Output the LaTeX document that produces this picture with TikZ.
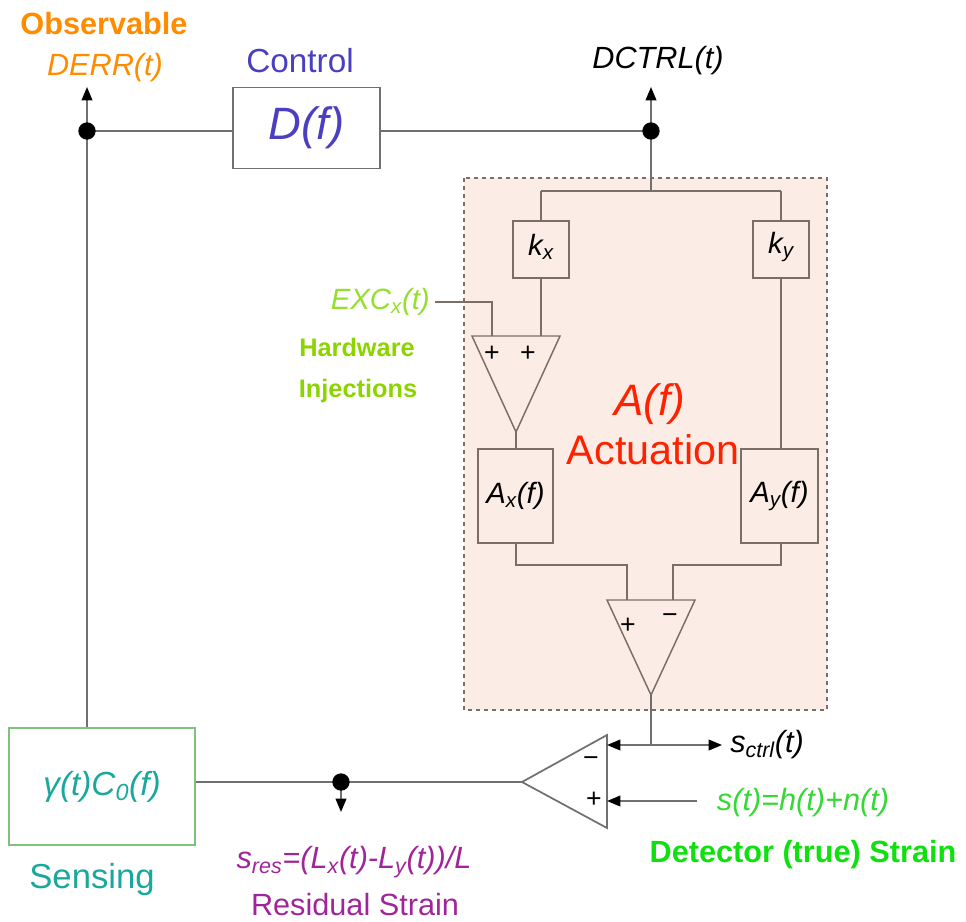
\documentclass[tikz,border=0pt]{standalone}
\usepackage{fontspec}
\setmainfont{Liberation Sans}
\usetikzlibrary{arrows.meta}
\definecolor{lineg}{HTML}{707070}
\definecolor{boxg}{HTML}{7A6E66}
\definecolor{peach}{HTML}{FBEDE5}
\definecolor{obsor}{HTML}{FF8C00}
\definecolor{ctrlb}{HTML}{4A3FC0}
\definecolor{hwgreen}{HTML}{8CD400}
\definecolor{excgreen}{HTML}{95DF30}
\definecolor{detgreen}{HTML}{10E010}
\definecolor{sgreen}{HTML}{35D835}
\definecolor{teal1}{HTML}{1AA89C}
\definecolor{purp}{HTML}{A0259A}
\definecolor{actred}{HTML}{FF2200}
\definecolor{sensbd}{HTML}{7CC47C}
\begin{document}
\begin{tikzpicture}[x=0.75pt,y=-0.75pt,
  wire/.style={draw=lineg,line width=1.3pt},
  iwire/.style={draw=boxg,line width=1.1pt},
  arr/.style={-{Triangle[length=10pt,width=8pt,color=black]}},
  blk/.style={draw=boxg,line width=1.1pt,inner sep=0pt},
  dotn/.style={circle,fill=black,minimum size=13pt,inner sep=0pt},
  lbl/.style={inner sep=0pt},
  sz/.style={font=\fontsize{#1}{#1}\selectfont},
  bsz/.style={font=\fontsize{#1}{#1}\selectfont\bfseries}]
\useasboundingbox (0,0) rectangle (966,921);
% dashed actuation region
\draw[dashed,draw=boxg,fill=peach,line width=0.9pt] (464,178) rectangle (827,710);
% blocks
\node[blk,draw=lineg,line width=1.3pt,minimum width=110.25pt,minimum height=60.75pt] (D) at (306.5,128) {};
\node[lbl,sz=34,text=ctrlb] at (D.center) {\itshape D(f)};
\node[blk,minimum width=42pt,minimum height=42.75pt] (kx) at (541,249.5) {};
\node[lbl,sz=22] at ([yshift=2pt]kx.center) {\itshape k\textsubscript{x}};
\node[blk,minimum width=42pt,minimum height=42.75pt] (ky) at (781,249.5) {};
\node[lbl,sz=22] at ([yshift=2pt]ky.center) {\itshape k\textsubscript{y}};
\node[blk,minimum width=56.25pt,minimum height=70.5pt] (Ax) at (515.5,496) {};
\node[lbl,sz=22] at (Ax.center) {\itshape A\textsubscript{x}(f)};
\node[blk,minimum width=57.75pt,minimum height=70.5pt] (Ay) at (779.5,496) {};
\node[lbl,sz=22] at (Ay.center) {\itshape A\textsubscript{y}(f)};
\node[blk,draw=sensbd,line width=1.3pt,minimum width=139.5pt,minimum height=87.75pt] (S) at (102,786.5) {};
\node[lbl,sz=25,text=teal1] at (S.center) {\itshape γ(t)C\textsubscript{0}(f)};
% triangles
\coordinate (t1a) at (472,336); \coordinate (t1b) at (560,336); \coordinate (t1o) at (516,432);
\coordinate (t1i1) at (492,336); \coordinate (t1i2) at (541,336);
\draw[iwire] (t1a) -- (t1b) -- (t1o) -- cycle;
\coordinate (t2a) at (607,600); \coordinate (t2b) at (695,600); \coordinate (t2o) at (651,695);
\coordinate (t2i1) at (627,600); \coordinate (t2i2) at (673,600);
\draw[iwire] (t2a) -- (t2b) -- (t2o) -- cycle;
\coordinate (t3a) at (607,735); \coordinate (t3b) at (607,828); \coordinate (t3o) at (522,782);
\coordinate (t3m) at (607,745); \coordinate (t3p) at (607,801);
\draw[wire] (t3a) -- (t3b) -- (t3o) -- cycle;
% signs
\node[lbl,sz=20] at (492,354) {+};
\node[lbl,sz=20] at (528,354) {+};
\node[lbl,sz=20] at (628,626) {+};
\node[lbl,sz=20] at (670,619) {\textminus};
\node[lbl,sz=20] at (591,762) {\textminus};
\node[lbl,sz=20] at (594,800) {+};
% junction coordinates
\coordinate (j1c) at (87,131);
\coordinate (j2c) at (651,131);
\coordinate (j3c) at (341,782);
% outer loop
\coordinate (derr) at (87,87);
\coordinate (dctrl) at (651,87);
\coordinate (branch) at (651,191);
\coordinate (bl) at (541,191);
\coordinate (br) at (781,191);
\draw[wire,arr] (j1c) -- (derr);
\draw[wire,arr] (j2c) -- (dctrl);
\draw[wire] (j1c) -- (j1c -| D.west);
\draw[wire] (j2c -| D.east) -- (j2c);
\draw[wire] (j1c) -- (S.north -| j1c);
\draw[wire] (j2c) -- (branch);
\draw[iwire] (bl) -- (br);
\draw[iwire] (bl) -- (kx.north);
\draw[iwire] (br) -- (ky.north);
\draw[iwire] (kx.south) -- (t1i2);
\coordinate (excs) at (435,302);
\draw[iwire] (excs) -- (492,302) -- (t1i1);
\draw[iwire] (t1o) -- (t1o |- Ax.north);
\draw[iwire] (ky.south) -- (ky.south |- Ay.north);
\draw[iwire] (Ax.south -| t1o) -- (516,565) -- (627,565) -- (t2i1);
\draw[iwire] (Ay.south -| ky.south) -- (781,565) -- (673,565) -- (t2i2);
\coordinate (sj) at (651,745);
\coordinate (sc) at (722,745);
\coordinate (sin) at (697,801);
\draw[wire] (t2o) -- (sj);
\draw[wire,arr] (sj) -- (t3m);
\draw[wire,arr] (sj) -- (sc);
\draw[wire,arr] (sin) -- (t3p);
\draw[wire] (t3o) -- (t3o -| S.east);
\coordinate (sres) at (341,812);
\draw[wire,arr] (j3c) -- (sres);
% dots on top
\node[dotn] (j1) at (j1c) {};
\node[dotn] (j2) at (j2c) {};
\node[dotn] (j3) at (j3c) {};
% labels
\node[lbl,bsz=23,text=obsor] at (104,24) {Observable};
\node[lbl,sz=23,text=obsor] at (105,68) {\itshape DERR(t)};
\node[lbl,sz=25,text=ctrlb] at (300,61) {Control};
\node[lbl,sz=23] at (658,61) {\itshape DCTRL(t)};
\node[lbl,sz=22,text=excgreen,anchor=east] at (430,302) {\itshape EXC\textsubscript{x}(t)};
\node[lbl,bsz=19,text=hwgreen] at (357,347) {Hardware};
\node[lbl,bsz=19,text=hwgreen] at (358,391) {Injections};
\node[lbl,sz=33,text=actred] at (650,404) {\itshape A(f)};
\node[lbl,sz=31,text=actred] at (653,450) {Actuation};
\node[lbl,sz=23,anchor=west] at (730,745) {\itshape s\textsubscript{ctrl}(t)};
\node[lbl,sz=23,text=sgreen] at (803,803) {\itshape s(t)=h(t)+n(t)};
\node[lbl,bsz=23,text=detgreen] at (803,855) {Detector (true) Strain};
\node[lbl,sz=26,text=teal1] at (92,880) {Sensing};
\node[lbl,sz=23,text=purp] at (354,862) {\itshape s\textsubscript{res}=(L\textsubscript{x}(t)-L\textsubscript{y}(t))/L};
\node[lbl,sz=23,text=purp] at (355,905) {Residual Strain};
\end{tikzpicture}
\end{document}
